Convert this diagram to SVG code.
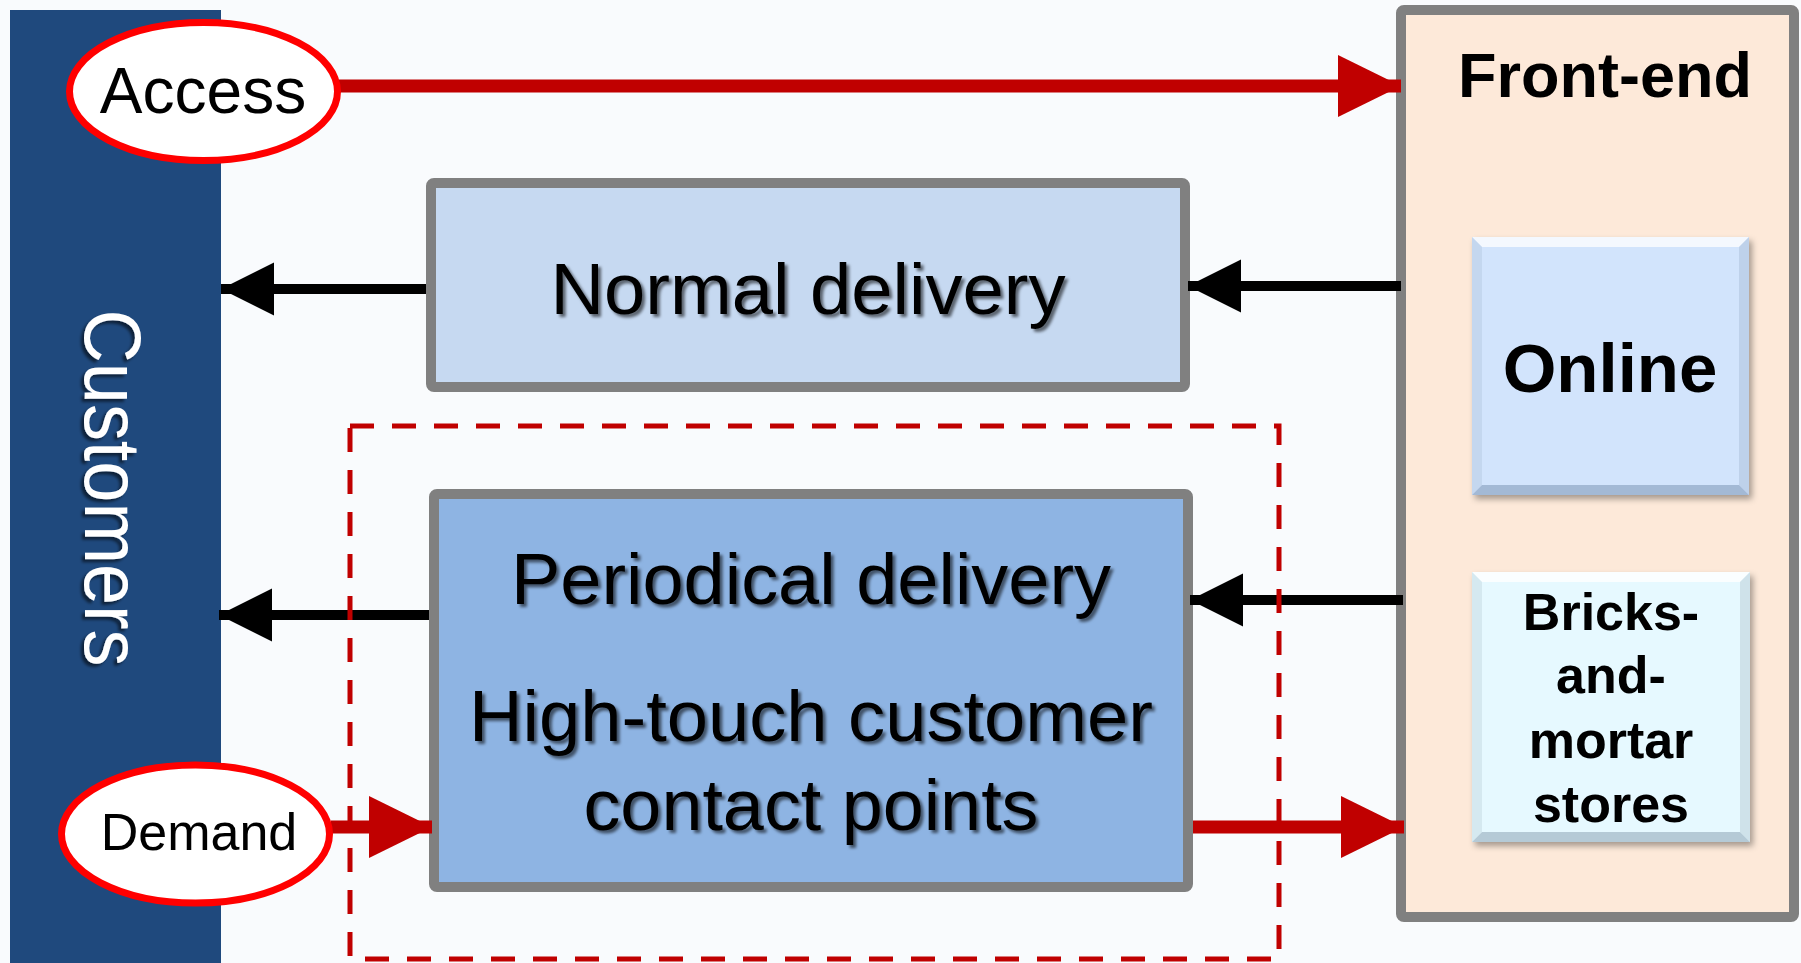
<svg xmlns="http://www.w3.org/2000/svg" width="1801" height="963" viewBox="0 0 1801 963">
<style>
.box{stroke:#808080;stroke-width:10;stroke-linejoin:round}
.t{font-family:"Liberation Sans",Arial,sans-serif;fill:#000}
.big{font-size:73px;text-anchor:middle}
.bold{font-weight:bold;text-anchor:middle}
.oval{fill:#FFFFFF;stroke:#FF0000;stroke-width:7}
.red{stroke:#C00000;stroke-width:13;fill:none}
.blk{stroke:#000000;stroke-width:10;fill:none}
</style>
<defs>
<marker id="rh" markerUnits="userSpaceOnUse" markerWidth="64" markerHeight="64" refX="63" refY="31" orient="auto">
<path d="M0,0 L63,31 L0,62 z" fill="#C00000"/>
</marker>
<marker id="bh" markerUnits="userSpaceOnUse" markerWidth="54" markerHeight="54" refX="53" refY="26.5" orient="auto">
<path d="M0,0 L53,26.5 L0,53 z" fill="#000000"/>
</marker>
<filter id="ts" x="-10%" y="-20%" width="120%" height="150%">
<feDropShadow dx="3" dy="3" stdDeviation="1.5" flood-color="#000" flood-opacity="0.55"/>
</filter>
<filter id="bs" x="-10%" y="-10%" width="125%" height="125%">
<feDropShadow dx="3" dy="4" stdDeviation="3" flood-color="#000" flood-opacity="0.35"/>
</filter>
</defs>
<rect x="0" y="0" width="1801" height="963" fill="#F9FBFD"/>

<g id="customers">
<rect x="10" y="10" width="211" height="953" fill="#1F497D"/>
<text class="t" transform="translate(85,488) rotate(90)" x="0" y="0" font-size="80" text-anchor="middle" style="fill:#FFFFFF" textLength="357" lengthAdjust="spacingAndGlyphs" filter="url(#ts)">Customers</text>
</g>

<g id="front-end">
<rect class="box" x="1401" y="10" width="393" height="907" rx="3" fill="#FDE9D9"/>
<text class="t bold" x="1605" y="97" font-size="63">Front-end</text>
</g>

<g id="online">
<rect x="1472" y="237" width="277" height="258" fill="#D2E4FC" filter="url(#bs)"/>
<polygon points="1472,237 1749,237 1739,247 1482,247" fill="#FFFFFF" opacity="0.75"/>
<polygon points="1472,495 1749,495 1739,485 1482,485" fill="#8FA7C4" opacity="0.7"/>
<polygon points="1472,237 1482,247 1482,485 1472,495" fill="#B5C9E2" opacity="0.5"/>
<polygon points="1749,237 1739,247 1739,485 1749,495" fill="#A9BDD8" opacity="0.5"/>
<text class="t bold" x="1610" y="392" font-size="69">Online</text>
</g>

<g id="bricks">
<rect x="1472" y="572" width="278" height="270" fill="#E6F9FF" filter="url(#bs)"/>
<polygon points="1472,572 1750,572 1740,582 1482,582" fill="#FFFFFF" opacity="0.8"/>
<polygon points="1472,842 1750,842 1740,832 1482,832" fill="#9FB6C4" opacity="0.7"/>
<polygon points="1472,572 1482,582 1482,832 1472,842" fill="#C3D9E2" opacity="0.5"/>
<polygon points="1750,572 1740,582 1740,832 1750,842" fill="#B8CCD6" opacity="0.5"/>
<text class="t bold" font-size="52"><tspan x="1611" y="630">Bricks-</tspan><tspan x="1611" y="693">and-</tspan><tspan x="1611" y="758">mortar</tspan><tspan x="1611" y="822">stores</tspan></text>
</g>

<g id="normal-delivery">
<rect class="box" x="431" y="183" width="754" height="204" rx="3" fill="#C6D9F1"/>
<text class="t big" x="808" y="314" textLength="515" lengthAdjust="spacingAndGlyphs" filter="url(#ts)">Normal delivery</text>
</g>

<g id="periodical-delivery">
<rect class="box" x="434" y="494" width="754" height="393" rx="3" fill="#8EB4E3"/>
<text class="t big" x="811" y="604" textLength="600" lengthAdjust="spacingAndGlyphs" filter="url(#ts)">Periodical delivery</text>
<text class="t big" x="811" y="741" textLength="684" lengthAdjust="spacingAndGlyphs" filter="url(#ts)">High-touch customer</text>
<text class="t big" x="811" y="830" textLength="455" lengthAdjust="spacingAndGlyphs" filter="url(#ts)">contact points</text>
</g>

<g id="connectors">
<line class="red" x1="339" y1="86" x2="1401" y2="86" marker-end="url(#rh)"/>
<line class="blk" x1="1401" y1="286" x2="1188" y2="286" marker-end="url(#bh)"/>
<line class="blk" x1="426" y1="289" x2="221" y2="289" marker-end="url(#bh)"/>
<line class="blk" x1="1403" y1="600" x2="1190" y2="600" marker-end="url(#bh)"/>
<line class="blk" x1="429" y1="615" x2="219" y2="615" marker-end="url(#bh)"/>
<line class="red" x1="331" y1="827" x2="432" y2="827" marker-end="url(#rh)"/>
<line class="red" x1="1193" y1="827" x2="1404" y2="827" marker-end="url(#rh)"/>
</g>

<g id="group-boundary">
<rect x="350" y="426" width="929" height="533" fill="none" stroke="#C00000" stroke-width="5" stroke-dasharray="24 18"/>
</g>

<g id="access">
<ellipse class="oval" cx="203.5" cy="91.5" rx="134" ry="69"/>
<text class="t" x="203" y="113" font-size="64" text-anchor="middle">Access</text>
</g>

<g id="demand">
<ellipse class="oval" cx="195.5" cy="834" rx="134" ry="69"/>
<text class="t" x="199" y="850" font-size="52" text-anchor="middle">Demand</text>
</g>
</svg>
